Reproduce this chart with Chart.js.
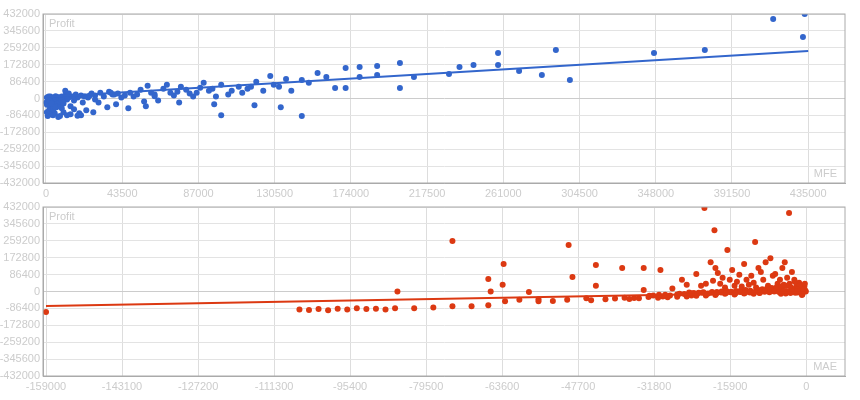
<!DOCTYPE html>
<html>
<head>
<meta charset="utf-8">
<script src="https://cdn.jsdelivr.net/npm/chart.js@4"></script>
<style>
  body { margin: 0; background: #fff; }
  .box { position: absolute; left: 0; width: 860px; height: 200px; }
</style>
</head>
<body>
<div class="box" style="top:0"><canvas id="mfeChart"></canvas></div>
<div class="box" style="top:193px"><canvas id="maeChart"></canvas></div>
<script>
const profitTicks = [-432000, -345600, -259200, -172800, -86400, 0, 86400, 172800, 259200, 345600, 432000];
const mfeTicks = [0, 43500, 87000, 130500, 174000, 217500, 261000, 304500, 348000, 391500, 435000];
const maeTicks = [-159000, -143100, -127200, -111300, -95400, -79500, -63600, -47700, -31800, -15900, 0];

// MFE vs Profit
const mfeX = [433000, 415000, 432000, 376000, 347000, 299000, 291000, 283000, 270000, 258000, 258000, 244000, 236000, 230000,
  210000, 202000, 202000, 189000, 189000, 179000, 179000, 171000, 171000, 165000, 160000, 155000, 150000, 146000, 140000,
  137000, 133000, 130000, 128000, 124000, 120000, 117000, 115000, 112000, 110000, 106000, 104000, 100000, 97000, 95000,
  93000, 90000, 88000, 86000, 84000, 82000, 80000, 77000, 75000, 73000, 71000, 69000, 67000, 64000, 62000, 60000, 58000,
  56000, 54000, 52000, 50000, 48000, 47000, 45000, 43000, 41000, 40000, 38000, 36000, 35000, 33000, 31000, 30000, 28000,
  27000, 26000, 24000, 23000, 22000, 21000, 20000, 19000, 18000, 17000, 16000, 15000, 14000, 13000, 12000, 11000, 10000,
  9500, 9000, 8500, 8000, 7500, 7000, 6500, 6000, 5500, 5000, 4500, 4000, 3500, 3000, 2500, 2000, 1500, 1000, 500, 200,
  1000, 2000, 3000, 4000, 5000, 6000, 7000, 8000, 9000, 10000, 12000, 14000, 16000, 18000, 20000, 2000, 500, 3000, 6000,
  25000, 28000, 37000, 39000, 11000, 13000, 62000, 57000, 76000, 96000, 119000, 134000, 146000, 100000, 1500, 2500, 4000,
  800, 1800, 2800, 3800, 4800, 5800, 6800, 7800, 8800, 9800, 600, 1200, 2200, 3200, 4200, 5200];
const mfeY = [432000, 407000, 314000, 248000, 232000, 95000, 248000, 120000, 140000, 232000, 171000, 171000, 161000, 125000,
  110000, 181000, 54000, 166000, 120000, 161000, 110000, 156000, 54000, 54000, 110000, 130000, 80000, 95000, 40000,
  100000, 60000, 70000, 115000, 40000, 85000, 60000, 50000, 30000, 60000, 40000, 20000, 70000, 10000, 50000,
  40000, 80000, 55000, 30000, 10000, 25000, 45000, 60000, 35000, 15000, 30000, 70000, 50000, -10000, 20000, 30000, 65000,
  -15000, 45000, 20000, 10000, 30000, -50000, 15000, 5000, 25000, -30000, 20000, 35000, -45000, 10000, 30000, -20000,
  15000, -70000, 25000, 5000, -60000, 10000, -20000, 15000, -75000, 5000, 20000, -10000, 10000, -40000, 5000, -5000,
  15000, -25000, 0, 10000, -15000, 5000, -35000, 0, 8000, -20000, 12000, -10000, 5000, -40000, 0, -25000, 10000, -15000,
  -5000, -30000, 5000, -20000, -90000, -60000, -80000, -85000, -75000, -45000, -95000, -90000, -50000, -70000, -85000,
  -80000, -55000, -88000, -85000, -80000, -70000, 3000, -10000, 15000, -5000, 30000, 20000, 40000, 25000, 12000, -40000,
  -20000, -30000, -35000, -45000, -90000, -85000, 10000, -45000, -20000, -30000, -60000, -50000, -35000,
  -12000, -28000, -38000, -18000, -8000, -22000, -32000, -2000, -12000, -25000, -55000, -45000, -65000, -30000, -50000, -42000];

// MAE vs Profit
const maeX = [-159000, -106000, -104000, -102000, -100000, -98000, -96000, -94000, -92000, -90000, -88000, -86000,
  -85500, -82000, -78000, -74000, -74000, -70000, -66500, -66500, -66000, -63300, -63500, -63000, -60000, -56000, -49700,
  -48900, -46000, -44000, -44000, -38500, -38000, -34000, -34000, -32000, -30500, -30000, -28000, -27000, -26000, -25000,
  -24000, -23000, -22000, -21300, -21000, -20000, -19500, -19200, -19000, -18500, -18000, -17500, -17000, -16500, -16000,
  -15500, -15000, -14500, -14000, -13500, -13000, -12500, -12000, -11500, -11000, -10700, -10500, -10000, -9500, -9000,
  -8500, -8000, -7500, -7000, -6500, -6000, -5500, -5000, -4500, -4000, -3600, -3500, -3000, -2500, -2000, -1500, -1000,
  -500, -200, -24500, -23500, -22500, -21500, -20500, -19700, -18700, -17700, -16700, -15700, -14700, -13700, -12700,
  -11700, -10200, -9200, -8200, -7200, -6200, -5200, -4200, -3200, -2200, -1200, -700, -300, -100, -800, -1800, -2800,
  -3800, -4800, -5800, -6800, -7800, -8800, -9800, -11000, -13000, -15000, -17000, -19000, -21000, -23000, -25000,
  -27000, -29000, -31000, -33000, -35000, -36000, -37000, -40000, -42000, -45000, -50000, -53000, -56000, -58000,
  -1300, -2300, -3300, -4300, -5300, -6300, -600, -1600, -2600, -3700, -4700, -400, -900, -1400, -1900, -2400, -300, -800,
  -26500, -25500, -24000, -22800, -21800, -20800, -19800, -18800, -17800, -16800, -15800, -14800, -13800, -12800, -11800,
  -10800, -9700, -8700, -7700, -6700, -5700, -4700, -3900, -2900, -1900, -900, -29500, -28500, -30800, -32800, -34800];
const maeY = [-105000, -92000, -95000, -90000, -96000, -88000, -92000, -85000, -90000, -88000, -92000, -86000,
  0, -85000, -82000, -75000, 258000, -76000, 64000, -70000, 0, 140000, 35000, -50000, -42000, -40000, 238000,
  74000, -35000, 136000, 30000, 120000, -32000, 120000, 8000, -20000, 110000, -25000, 15000, -15000, 60000, 35000,
  -20000, 90000, 30000, 427000, 40000, 150000, 55000, 313000, 120000, 95000, 40000, 70000, 20000, 212000, 60000,
  110000, 30000, 50000, 85000, 25000, 140000, 60000, 35000, 80000, 45000, 253000, 20000, 120000, 100000, 60000,
  150000, 30000, 170000, 80000, 90000, 40000, 60000, 120000, 150000, 70000, 401000, 40000, 100000, 60000, 30000, 45000, 20000,
  15000, 5000, -5000, -8000, -6000, -4000, -10000, -2000, -3000, 0, 2000, -1000, 3000, 5000, 8000,
  4000, 10000, 12000, 15000, 18000, 22000, 25000, 28000, 20000, 18000, 10000, 5000, 2000, 0, -3000, -5000,
  -2000, 0, 3000, 5000, 8000, 6000, 4000, -8000, -12000, -10000, -15000, -12000, -18000, -20000, -22000,
  -25000, -27000, -30000, -32000, -28000, -35000, -33000, -38000, -36000, -40000, -45000, -42000, -48000, -50000,
  -2000, -4000, -6000, -8000, -10000, -12000, 12000, 8000, 6000, 2000, -3000, 35000, 25000, 15000, 30000, 10000, 50000, 40000,
  -14000, -12000, -13000, -9000, -11000, -7000, -12000, -6000, -10000, -5000, -8000, -4000, -9000, -3000, -7000,
  -5000, -2000, -6000, -1000, -4000, 0, -3000, 2000, -1000, 3000, 1000, -18000, -16000, -20000, -17000, -22000];

const mfeTrendX = [0, 435000];
const mfeTrendY = [8000, 243000];
const maeTrendX = [-159000, 0];
const maeTrendY = [-74000, -4000];

const labelColor = '#cccccc';

function makeChart(id, xs, ys, tx, ty, xTicks, xMin, xMax, color, xName) {
  const pts = xs.map((x, i) => ({ x: x, y: ys[i] }));
  const trend = tx.map((x, i) => ({ x: x, y: ty[i] }));
  const tickFont = { family: 'Liberation Sans', size: 11 };
  return new Chart(document.getElementById(id), {
    type: 'scatter',
    data: {
      datasets: [
        { type: 'line', data: trend, borderColor: color, borderWidth: 2, pointRadius: 0, fill: false },
        { data: pts, backgroundColor: color, borderColor: color, pointRadius: 3, borderWidth: 0 }
      ]
    },
    options: {
      responsive: false,
      animation: false,
      layout: { padding: { top: 14, right: 15 } },
      plugins: { legend: { display: false }, tooltip: { enabled: false } },
      scales: {
        x: {
          type: 'linear', min: xMin, max: xMax,
          afterBuildTicks: (s) => { s.ticks = xTicks.map((v) => ({ value: v })); },
          afterFit: (s) => { s.height = 17; },
          grid: { color: '#dddddd', drawTicks: false },
          border: { color: '#aaaaaa' },
          ticks: { color: labelColor, font: tickFont, padding: 4, maxRotation: 0, autoSkip: false, callback: (v) => String(v) }
        },
        y: {
          min: -432000, max: 432000,
          afterBuildTicks: (s) => { s.ticks = profitTicks.map((v) => ({ value: v })); },
          afterFit: (s) => { s.width = 43; },
          grid: { color: (c) => c.tick && c.tick.value === 0 ? '#cccccc' : '#e3e3e3', drawTicks: false },
          border: { color: '#aaaaaa' },
          ticks: { color: labelColor, font: tickFont, padding: 3, callback: (v) => String(v) }
        }
      }
    },
    plugins: [{
      id: 'names',
      afterDraw(chart) {
        const a = chart.chartArea, ctx = chart.ctx;
        ctx.save();
        ctx.fillStyle = '#cccccc';
        ctx.font = '11px "Liberation Sans"';
        ctx.textBaseline = 'top';
        ctx.textAlign = 'left';
        ctx.fillText('Profit', a.left + 6, a.top + 4);
        ctx.textAlign = 'right';
        ctx.textBaseline = 'bottom';
        ctx.fillText(xName, a.right - 8, a.bottom - 4);
        ctx.strokeStyle = '#aaaaaa';
        ctx.strokeRect(a.left, a.top, a.right - a.left, a.bottom - a.top);
        ctx.restore();
      }
    }]
  });
}

for (const id of ['mfeChart', 'maeChart']) {
  const c = document.getElementById(id);
  c.width = 860; c.height = 200;
}
makeChart('mfeChart', mfeX, mfeY, mfeTrendX, mfeTrendY, mfeTicks, -1700, 456000, '#3366cc', 'MFE');
makeChart('maeChart', maeX, maeY, maeTrendX, maeTrendY, maeTicks, -159630, 8100, '#dc3912', 'MAE');
</script>
</body>
</html>
